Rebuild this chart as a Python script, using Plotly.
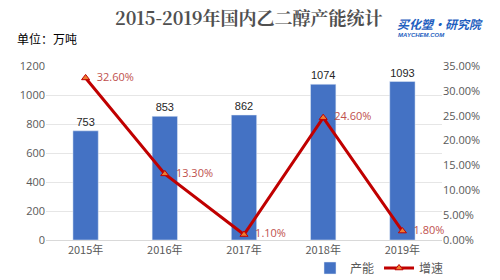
import plotly.graph_objects as go

years = ["2015年", "2016年", "2017年", "2018年", "2019年"]
capacity = [753, 853, 862, 1074, 1093]
growth_pct = [32.6, 13.3, 1.1, 24.6, 1.8]

growth = [g / 100 for g in growth_pct]
growth_labels = [f"{g:.2f}%" for g in growth_pct]

L, R, T, B = 46, 58, 66, 40
W, H = 500, 280

fig = go.Figure()
fig.add_trace(go.Bar(
    x=years, y=capacity, name="产能",
    marker_color="#4472C4",
    text=[str(v) for v in capacity], textposition="outside",
    textfont=dict(color="#262626", size=11, family="Liberation Sans"),
    cliponaxis=False,
))
fig.add_trace(go.Scatter(
    x=years, y=growth, name="增速", yaxis="y2",
    mode="lines+markers+text",
    line=dict(color="#C00000", width=3),
    marker=dict(symbol="triangle-up", size=7, color="#ED7D31",
                line=dict(color="#C00000", width=1)),
    text=["  " + t for t in growth_labels], textposition="middle right",
    textfont=dict(color="#C0504D", size=11, family="Open Sans"),
    cliponaxis=False,
))

def px_x(px):
    return (px - L) / (W - L - R)

def px_y(py):
    return (H - B - py) / (H - T - B)

fig.update_layout(
    width=W, height=H,
    margin=dict(l=L, r=R, t=T, b=B, autoexpand=False),
    paper_bgcolor="white", plot_bgcolor="white",
    bargap=0.68,
    showlegend=True,
    legend=dict(orientation="h", xref="container", yref="container",
                x=310 / W, y=(H - 268) / H, xanchor="left", yanchor="middle",
                font=dict(size=12, color="#595959", family="Noto Sans CJK SC"),
                bgcolor="rgba(0,0,0,0)", itemwidth=30),
    xaxis=dict(showline=True, linecolor="#D9D9D9", ticks="",
               tickfont=dict(size=11, color="#595959", family="Noto Sans CJK SC")),
    yaxis=dict(range=[0, 1200], dtick=200, showgrid=True, gridcolor="#E6E6E6",
               zeroline=False, ticks="",
               tickfont=dict(size=11, color="#595959", family="Open Sans")),
    yaxis2=dict(overlaying="y", side="right", range=[0, 0.35], dtick=0.05,
                tickformat=".2%", showgrid=False, zeroline=False,
                tickfont=dict(size=11, color="#595959", family="Open Sans")),
    annotations=[
        dict(text="<b>2015-2019年国内乙二醇产能统计</b>", x=px_x(249), y=px_y(17),
             xref="paper", yref="paper", showarrow=False,
             xanchor="center", yanchor="middle",
             font=dict(size=18, color="#505050",
                       family="Noto Serif CJK SC, Liberation Serif, serif")),
        dict(text="单位：万吨", x=px_x(15), y=px_y(38), xref="paper", yref="paper",
             showarrow=False, xanchor="left", yanchor="middle",
             font=dict(size=12, color="#000000", family="Noto Sans CJK SC")),
        dict(text="<b><i>买化塑·研究院</i></b>", x=px_x(395), y=px_y(24),
             xref="paper", yref="paper", showarrow=False,
             xanchor="left", yanchor="middle",
             font=dict(size=12, color="#1F5FBF", family="Noto Sans CJK SC")),
        dict(text="<b><i>MAYCHEM.COM</i></b>", x=px_x(396), y=px_y(35),
             xref="paper", yref="paper", showarrow=False,
             xanchor="left", yanchor="middle",
             font=dict(size=6, color="#1F5FBF", family="Liberation Sans")),
    ],
)

fig.write_html("out.html")
